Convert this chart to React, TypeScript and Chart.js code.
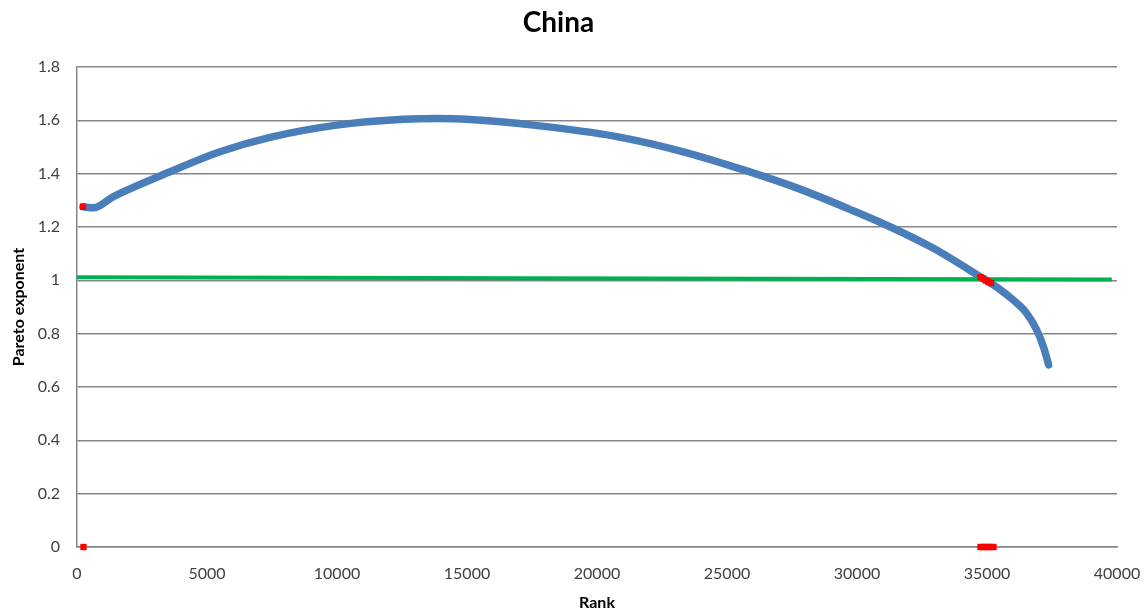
import React, { useEffect, useRef } from "react";
import { Chart, registerables } from "chart.js";

Chart.register(...registerables);

// Rank positions and fitted Pareto exponent along the curve
const curveRanks = [230, 630, 1400, 3580, 5500, 7420, 9990, 12550, 13900, 15110, 17550, 20760, 23320, 25640, 27810, 29730, 31270, 32940, 34730, 35440, 36010, 36530, 36910, 37170, 37320, 37370];
const curveValues = [1.276, 1.272, 1.314, 1.407, 1.482, 1.536, 1.582, 1.604, 1.607, 1.603, 1.582, 1.539, 1.482, 1.414, 1.342, 1.266, 1.201, 1.12, 1.014, 0.97, 0.926, 0.876, 0.814, 0.751, 0.701, 0.683];

// Reference exponent line
const refRanks = [0, 39800];
const refValues = [1.012, 1.003];

// Highlighted points
const markRanks = [230, 34750, 34850, 34950, 35050, 35150, 250, 34750, 34850, 34950, 35050, 35150, 35250];
const markValues = [1.276, 1.012, 1.007, 1.0, 0.995, 0.99, 0, 0, 0, 0, 0, 0, 0];

const xTicks = [0, 5000, 10000, 15000, 20000, 25000, 30000, 35000, 40000];

const toPoints = (xs: number[], ys: number[]) => xs.map((x, i) => ({ x, y: ys[i] }));

export default function App() {
  const ref = useRef<HTMLCanvasElement | null>(null);

  useEffect(() => {
    document.body.style.margin = "0";
    const canvas = ref.current;
    if (!canvas) return;
    const gridColor = "#868686";
    const textColor = "#404040";
    const chart = new Chart(canvas, {
      type: "line",
      data: {
        datasets: [
          {
            label: "marks",
            data: toPoints(markRanks, markValues),
            showLine: false,
            pointStyle: "rect",
            pointRadius: 4.5,
            pointBackgroundColor: "#FF0000",
            pointBorderColor: "#FF0000",
            pointBorderWidth: 0,
            clip: false as any,
            order: 0,
          },
          {
            label: "reference",
            data: toPoints(refRanks, refValues),
            borderColor: "#00B050",
            borderWidth: 4,
            pointRadius: 0,
            order: 1,
          },
          {
            label: "exponent",
            data: toPoints(curveRanks, curveValues),
            borderColor: "#4A7EBB",
            borderWidth: 7.5,
            borderCapStyle: "round",
            borderJoinStyle: "round",
            pointRadius: 0,
            cubicInterpolationMode: "monotone",
            order: 2,
          },
        ],
      },
      options: {
        animation: false,
        responsive: false,
        maintainAspectRatio: false,
        layout: { padding: { left: 0, right: 28, top: 0, bottom: 0 } },
        plugins: {
          legend: { display: false },
          tooltip: { enabled: false },
          title: {
            display: true,
            text: "China",
            color: "#000000",
            font: { family: "Lato", size: 28, weight: "bold", lineHeight: 1.2 },
            padding: { top: 6, bottom: 27.4 },
          },
        },
        scales: {
          x: {
            type: "linear",
            min: 0,
            max: 40000,
            afterBuildTicks: (scale: any) => {
              scale.ticks = xTicks.map((v) => ({ value: v }));
            },
            afterFit: (scale: any) => {
              scale.height = 65;
              scale.paddingLeft = 0;
              scale.paddingRight = 0;
            },
            ticks: {
              color: textColor,
              font: { family: "Lato", size: 16 },
              padding: 17,
              maxRotation: 0,
              callback: (v: any) => String(v),
            },
            grid: { display: false, drawTicks: false },
            border: { display: true, color: gridColor, width: 1.5 },
            title: {
              display: true,
              text: "Rank",
              color: "#000000",
              font: { family: "Lato", size: 16, weight: "bold" },
              padding: { top: 4, bottom: 0 },
            },
          },
          y: {
            type: "linear",
            min: 0,
            max: 1.8,
            ticks: {
              stepSize: 0.2,
              color: textColor,
              font: { family: "Lato", size: 16 },
              padding: 17,
              callback: (v: any) => String(Math.round(Number(v) * 10) / 10),
            },
            afterFit: (scale: any) => {
              scale.width = 77;
              scale.paddingTop = 0;
              scale.paddingBottom = 0;
            },
            grid: { color: gridColor, lineWidth: 1.5, drawTicks: false },
            border: { display: true, color: gridColor, width: 1.5 },
            title: {
              display: true,
              text: "Pareto exponent",
              color: "#000000",
              font: { family: "Lato", size: 16, weight: "bold" },
              padding: { top: 9, bottom: 0 },
            },
          },
        },
      },
    });
    return () => chart.destroy();
  }, []);

  return (
    <div style={{ width: 1145, height: 612, background: "#ffffff" }}>
      <canvas ref={ref} width={1145} height={612} style={{ display: "block" }} />
    </div>
  );
}
